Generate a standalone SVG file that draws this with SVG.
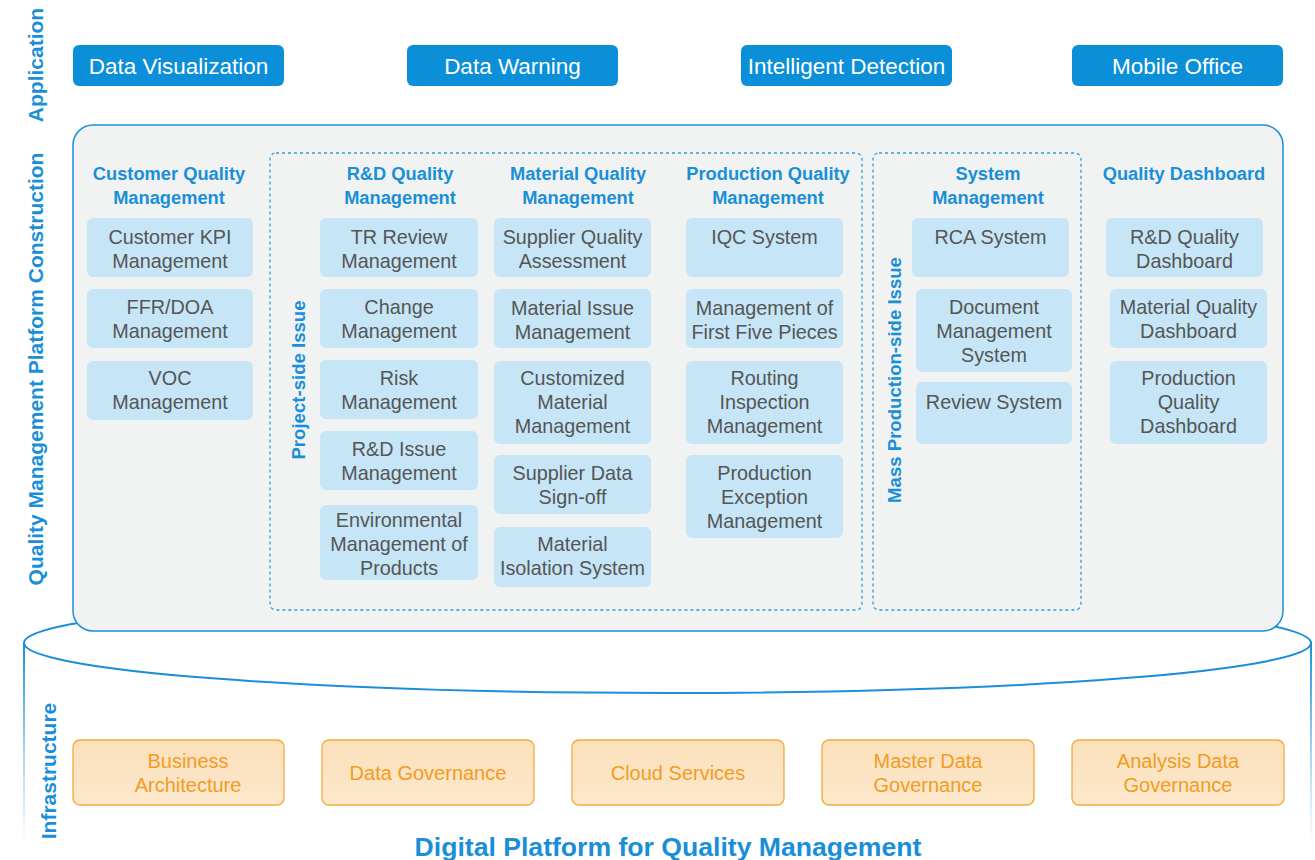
<svg xmlns="http://www.w3.org/2000/svg" width="1315" height="860" viewBox="0 0 1315 860">
<defs>
<linearGradient id="side" gradientUnits="userSpaceOnUse" x1="0" y1="642" x2="0" y2="845"><stop offset="0" stop-color="#1a8fd8"/><stop offset="0.55" stop-color="#a8d5f2"/><stop offset="1" stop-color="#ffffff"/></linearGradient>
<linearGradient id="org" x1="0" y1="0" x2="0" y2="1"><stop offset="0" stop-color="#fbe0bb"/><stop offset="1" stop-color="#fce8cc"/></linearGradient>
<style>
.lbl{font-family:"Liberation Sans",Arial,sans-serif;font-weight:bold;font-size:21px;fill:#1a8fd8;text-anchor:middle}
.sub{font-family:"Liberation Sans",Arial,sans-serif;font-weight:bold;font-size:18.6px;fill:#1a8fd8;text-anchor:middle}
.app rect{fill:#0b8fd8}
.app text{font-family:"Liberation Sans",Arial,sans-serif;font-size:22.5px;fill:#ffffff;text-anchor:middle}
.hd{font-family:"Liberation Sans",Arial,sans-serif;font-weight:bold;font-size:18.3px;fill:#1a8fd8;text-anchor:middle}
.bx rect{fill:#c6e6f7}
.bx text{font-family:"Liberation Sans",Arial,sans-serif;font-size:19.8px;fill:#555555;text-anchor:middle}
.inf rect{fill:url(#org);stroke:#f5a93d;stroke-width:1.3}
.inf text{font-family:"Liberation Sans",Arial,sans-serif;font-size:20px;fill:#f39c1f;text-anchor:middle}
.dash{fill:none;stroke:#2a9ee0;stroke-width:1.3;stroke-dasharray:3 3}
</style>
</defs>
<rect width="1315" height="860" fill="#ffffff"/>

<!-- cylinder -->
<g id="cylinder">
<rect x="23" y="642" width="2" height="203" fill="url(#side)"/>
<rect x="1310" y="642" width="2" height="203" fill="url(#side)"/>
<ellipse cx="667.5" cy="643" rx="643.5" ry="50" fill="#ffffff" stroke="#1a8fd8" stroke-width="2"/>
</g>

<!-- side labels -->
<text class="lbl" transform="translate(43,65) rotate(-90)">Application</text>
<text class="lbl" transform="translate(43,369) rotate(-90)">Quality Management Platform Construction</text>
<text class="lbl" transform="translate(56,771) rotate(-90)">Infrastructure</text>

<!-- application -->
<g id="app-dv" class="app"><rect x="73" y="45" width="211" height="41" rx="6"/><text x="178.5" y="74">Data Visualization</text></g>
<g id="app-dw" class="app"><rect x="407" y="45" width="211" height="41" rx="6"/><text x="512.5" y="74">Data Warning</text></g>
<g id="app-id" class="app"><rect x="741" y="45" width="211" height="41" rx="6"/><text x="846.5" y="74">Intelligent Detection</text></g>
<g id="app-mo" class="app"><rect x="1072" y="45" width="211" height="41" rx="6"/><text x="1177.5" y="74">Mobile Office</text></g>

<!-- platform -->
<g id="platform">
<rect x="73" y="125" width="1210" height="506" rx="20" fill="#f1f3f3" stroke="#1a8fd8" stroke-width="1.5"/>
<rect class="dash" x="270" y="153" width="592" height="457" rx="6"/>
<rect class="dash" x="873" y="153" width="208" height="457" rx="6"/>
<text class="sub" transform="translate(305,380) rotate(-90)">Project-side Issue</text>
<text class="sub" transform="translate(901,380) rotate(-90)">Mass Production-side Issue</text>
</g>

<!-- headings -->
<g id="headings">
<text class="hd" x="169" y="180">Customer Quality</text><text class="hd" x="169" y="204">Management</text>
<text class="hd" x="400" y="180">R&amp;D Quality</text><text class="hd" x="400" y="204">Management</text>
<text class="hd" x="578" y="180">Material Quality</text><text class="hd" x="578" y="204">Management</text>
<text class="hd" x="768" y="180">Production Quality</text><text class="hd" x="768" y="204">Management</text>
<text class="hd" x="988" y="180">System</text><text class="hd" x="988" y="204">Management</text>
<text class="hd" x="1184" y="180">Quality Dashboard</text>
</g>

<!-- customer -->
<g id="c1" class="bx"><rect x="87" y="218" width="166" height="59" rx="6"/><text x="170" y="244">Customer KPI</text><text x="170" y="268">Management</text></g>
<g id="c2" class="bx"><rect x="87" y="289" width="166" height="59" rx="6"/><text x="170" y="314">FFR/DOA</text><text x="170" y="338">Management</text></g>
<g id="c3" class="bx"><rect x="87" y="361" width="166" height="59" rx="6"/><text x="170" y="385">VOC</text><text x="170" y="409">Management</text></g>

<!-- R&D -->
<g id="r1" class="bx"><rect x="320" y="218" width="158" height="59" rx="6"/><text x="399" y="244">TR Review</text><text x="399" y="268">Management</text></g>
<g id="r2" class="bx"><rect x="320" y="289" width="158" height="59" rx="6"/><text x="399" y="314">Change</text><text x="399" y="338">Management</text></g>
<g id="r3" class="bx"><rect x="320" y="360" width="158" height="59" rx="6"/><text x="399" y="385">Risk</text><text x="399" y="409">Management</text></g>
<g id="r4" class="bx"><rect x="320" y="431" width="158" height="59" rx="6"/><text x="399" y="456">R&amp;D Issue</text><text x="399" y="480">Management</text></g>
<g id="r5" class="bx"><rect x="320" y="505" width="158" height="75" rx="6"/><text x="399" y="527">Environmental</text><text x="399" y="551">Management of</text><text x="399" y="575">Products</text></g>

<!-- material -->
<g id="m1" class="bx"><rect x="494" y="218" width="157" height="59" rx="6"/><text x="572.5" y="244">Supplier Quality</text><text x="572.5" y="268">Assessment</text></g>
<g id="m2" class="bx"><rect x="494" y="289" width="157" height="59" rx="6"/><text x="572.5" y="315">Material Issue</text><text x="572.5" y="339">Management</text></g>
<g id="m3" class="bx"><rect x="494" y="361" width="157" height="83" rx="6"/><text x="572.5" y="385">Customized</text><text x="572.5" y="409">Material</text><text x="572.5" y="433">Management</text></g>
<g id="m4" class="bx"><rect x="494" y="455" width="157" height="59" rx="6"/><text x="572.5" y="480">Supplier Data</text><text x="572.5" y="504">Sign-off</text></g>
<g id="m5" class="bx"><rect x="494" y="527" width="157" height="60" rx="6"/><text x="572.5" y="551">Material</text><text x="572.5" y="575">Isolation System</text></g>

<!-- production -->
<g id="p1" class="bx"><rect x="686" y="218" width="157" height="59" rx="6"/><text x="764.5" y="244">IQC System</text></g>
<g id="p2" class="bx"><rect x="686" y="289" width="157" height="59" rx="6"/><text x="764.5" y="315">Management of</text><text x="764.5" y="339">First Five Pieces</text></g>
<g id="p3" class="bx"><rect x="686" y="361" width="157" height="83" rx="6"/><text x="764.5" y="385">Routing</text><text x="764.5" y="409">Inspection</text><text x="764.5" y="433">Management</text></g>
<g id="p4" class="bx"><rect x="686" y="455" width="157" height="83" rx="6"/><text x="764.5" y="480">Production</text><text x="764.5" y="504">Exception</text><text x="764.5" y="528">Management</text></g>

<!-- system -->
<g id="s1" class="bx"><rect x="912" y="218" width="157" height="59" rx="6"/><text x="990.5" y="244">RCA System</text></g>
<g id="s2" class="bx"><rect x="916" y="289" width="156" height="83" rx="6"/><text x="994" y="314">Document</text><text x="994" y="338">Management</text><text x="994" y="362">System</text></g>
<g id="s3" class="bx"><rect x="916" y="382" width="156" height="62" rx="6"/><text x="994" y="409">Review System</text></g>

<!-- dashboard -->
<g id="d1" class="bx"><rect x="1106" y="218" width="157" height="59" rx="6"/><text x="1184.5" y="244">R&amp;D Quality</text><text x="1184.5" y="268">Dashboard</text></g>
<g id="d2" class="bx"><rect x="1110" y="289" width="157" height="59" rx="6"/><text x="1188.5" y="314">Material Quality</text><text x="1188.5" y="338">Dashboard</text></g>
<g id="d3" class="bx"><rect x="1110" y="361" width="157" height="83" rx="6"/><text x="1188.5" y="385">Production</text><text x="1188.5" y="409">Quality</text><text x="1188.5" y="433">Dashboard</text></g>

<!-- infrastructure -->
<g id="i1" class="inf"><rect x="73" y="740" width="211" height="65" rx="7"/><text x="188" y="768">Business</text><text x="188" y="792">Architecture</text></g>
<g id="i2" class="inf"><rect x="322" y="740" width="212" height="65" rx="7"/><text x="428" y="780">Data Governance</text></g>
<g id="i3" class="inf"><rect x="572" y="740" width="212" height="65" rx="7"/><text x="678" y="780">Cloud Services</text></g>
<g id="i4" class="inf"><rect x="822" y="740" width="212" height="65" rx="7"/><text x="928" y="768">Master Data</text><text x="928" y="792">Governance</text></g>
<g id="i5" class="inf"><rect x="1072" y="740" width="212" height="65" rx="7"/><text x="1178" y="768">Analysis Data</text><text x="1178" y="792">Governance</text></g>

<g id="connectors"/>

<text x="668" y="856" style="font-family:'Liberation Sans',Arial,sans-serif;font-weight:bold;font-size:26.6px;fill:#1a8fd8;text-anchor:middle">Digital Platform for Quality Management</text>
</svg>
